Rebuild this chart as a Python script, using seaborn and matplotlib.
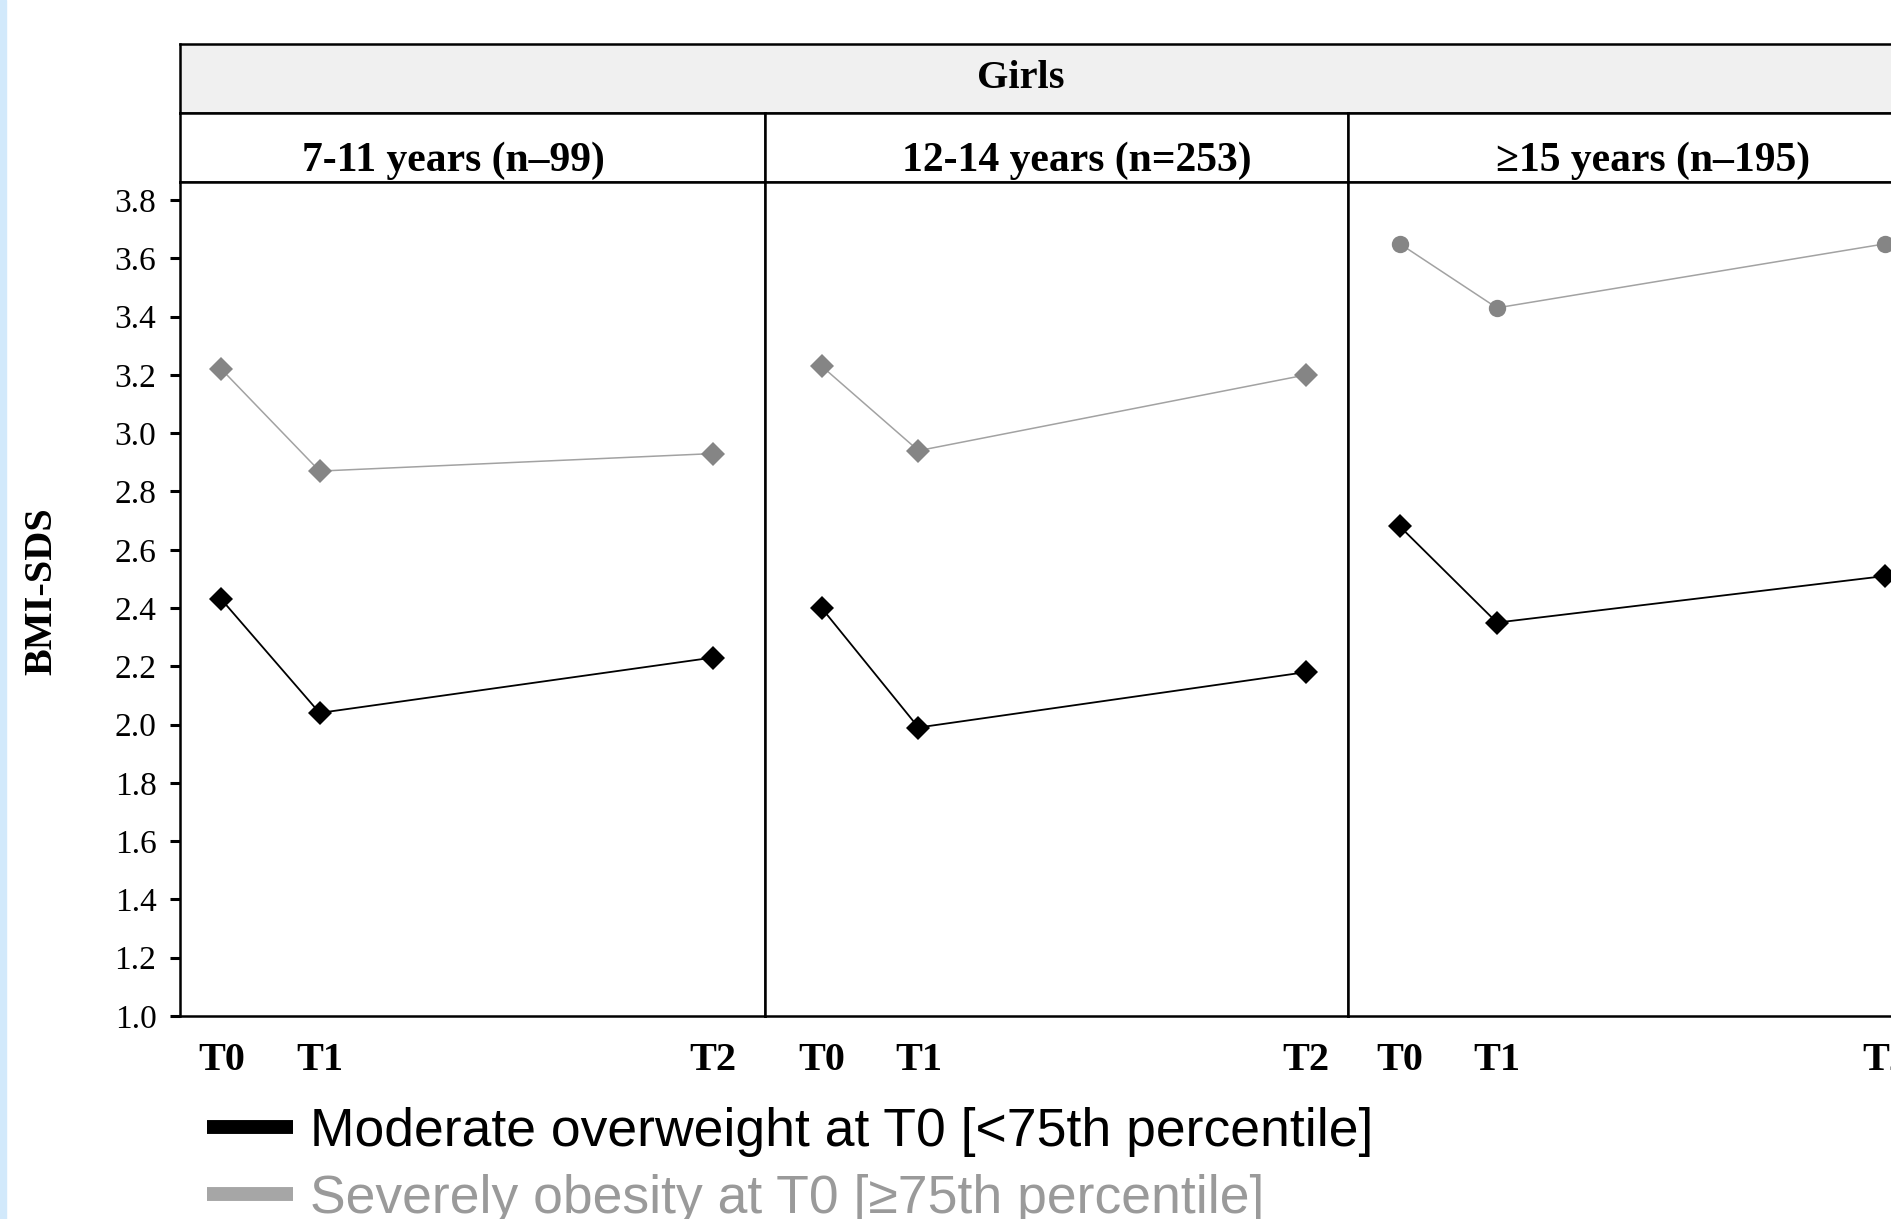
import numpy as np
import pandas as pd
import seaborn as sns
import matplotlib.pyplot as plt
from matplotlib.lines import Line2D

sns.set_style("white")
plt.rcParams['font.family'] = ['Liberation Serif', 'DejaVu Serif']
plt.rcParams['text.color'] = 'black'
plt.rcParams['xtick.color'] = 'black'
plt.rcParams['ytick.color'] = 'black'
plt.rcParams['axes.labelcolor'] = 'black'

# values
panels = ["7-11 years (n\u201399)", "12-14 years (n=253)", "\u226515 years (n\u2013195)"]
times = ["T0", "T1", "T2"]
time_pos = [0, 1, 5]
moderate = [[2.43, 2.04, 2.23], [2.40, 1.99, 2.18], [2.68, 2.35, 2.51]]
severe = [[3.22, 2.87, 2.93], [3.23, 2.94, 3.20], [3.65, 3.43, 3.65]]
groups = ["Moderate overweight at T0 [<75th percentile]",
          "Severely obesity at T0 [\u226575th percentile]"]
yticks = [1.0, 1.2, 1.4, 1.6, 1.8, 2.0, 2.2, 2.4, 2.6, 2.8, 3.0, 3.2, 3.4, 3.6, 3.8]

rows = []
for i, p in enumerate(panels):
    for g, vals in zip(groups, [moderate[i], severe[i]]):
        for t, x, v in zip(times, time_pos, vals):
            rows.append({'panel': p, 'group': g, 'time': t, 'x': x, 'bmi': v})
df = pd.DataFrame(rows)

W, H = 1891, 1219
fig = plt.figure(figsize=(W / 100, H / 100), dpi=100)

def box(x0, x1, y0, y1):
    # pixel box -> figure fraction [left, bottom, width, height]
    return [x0 / W, 1 - y1 / H, (x1 - x0) / W, (y1 - y0) / H]

# light blue margin on the left
fig.add_artist(plt.Rectangle((0, 0), 6 / W, 1, color='#d2e9fb', transform=fig.transFigure))

edges = [180, 765, 1348, 1932]
xlims = [(-0.42, 5.53), (-0.585, 5.435), (-0.534, 5.48)]
title_x = [0.467, 0.535, 0.522]
palette = {groups[0]: 'black', groups[1]: '#a2a2a2'}
serif = ['Liberation Serif', 'DejaVu Serif']
spine_w = 1.8

# Girls strip
ax_g = fig.add_axes(box(180, 1932, 44, 113))
ax_g.set_facecolor('#f0f0f0')
ax_g.set_xticks([])
ax_g.set_yticks([])
for s in ax_g.spines.values():
    s.set_linewidth(spine_w)
    s.set_color('black')
fig.text(1021 / W, 1 - 78 / H, "Girls", ha='center', va='center', fontsize=29,
         fontweight='bold', family=serif)

for i, p in enumerate(panels):
    ax_h = fig.add_axes(box(edges[i], edges[i + 1], 113, 182))
    ax_h.set_xticks([])
    ax_h.set_yticks([])
    for s in ax_h.spines.values():
        s.set_linewidth(spine_w)
        s.set_color('black')
    ax_h.text(title_x[i], 0.31, p, transform=ax_h.transAxes, ha='center', va='center',
              fontsize=30, fontweight='bold', family=serif)

    ax = fig.add_axes(box(edges[i], edges[i + 1], 182, 1016))
    sub = df[df['panel'] == p]
    mk = {groups[0]: 'D', groups[1]: 'o' if i == 2 else 'D'}
    sns.lineplot(data=sub, x='x', y='bmi', hue='group', style='group', palette=palette,
                 markers=mk, dashes=False, markersize=12.5, linewidth=1.3,
                 markeredgewidth=0, legend=False, ax=ax)
    for ln in ax.lines:
        if ln.get_color() == '#a2a2a2':
            ln.set_markerfacecolor('#858585')
            ln.set_linewidth(1.1)
    ax.set_xlim(*xlims[i])
    ax.set_ylim(1.0, 3.862)
    ax.set_xticks(time_pos)
    ax.set_xticklabels(times, fontsize=29, fontweight='bold')
    ax.tick_params(axis='x', length=0, pad=19)
    ax.set_xlabel('')
    ax.set_ylabel('')
    for s in ax.spines.values():
        s.set_linewidth(spine_w)
        s.set_color('black')
    if i == 0:
        ax.set_yticks(yticks)
        ax.set_yticklabels([f"{v:.1f}" for v in yticks], fontsize=24)
        ax.tick_params(axis='y', left=True, length=7, width=2.2, pad=10, direction='out')
    else:
        ax.set_yticks([])

fig.text(42 / W, 1 - 591 / H, "BMI-SDS", rotation=90, ha='center', va='center',
         fontsize=29, fontweight='bold', family=serif)

handles = [Line2D([], [], color='black', lw=10, solid_capstyle='butt'),
           Line2D([], [], color='#a6a6a6', lw=10, solid_capstyle='butt')]
leg = fig.legend(handles=handles, labels=groups, loc='upper left',
                 bbox_to_anchor=(207 / W, 1 - 1107 / H), frameon=False,
                 prop={'family': ['Liberation Sans', 'DejaVu Sans'], 'size': 38.5},
                 handlelength=1.6, handletextpad=0.33, labelspacing=0.32,
                 borderpad=0, borderaxespad=0)
leg.get_texts()[0].set_color('black')
leg.get_texts()[1].set_color('#9a9a9a')

fig.savefig('out.png', dpi=100)
